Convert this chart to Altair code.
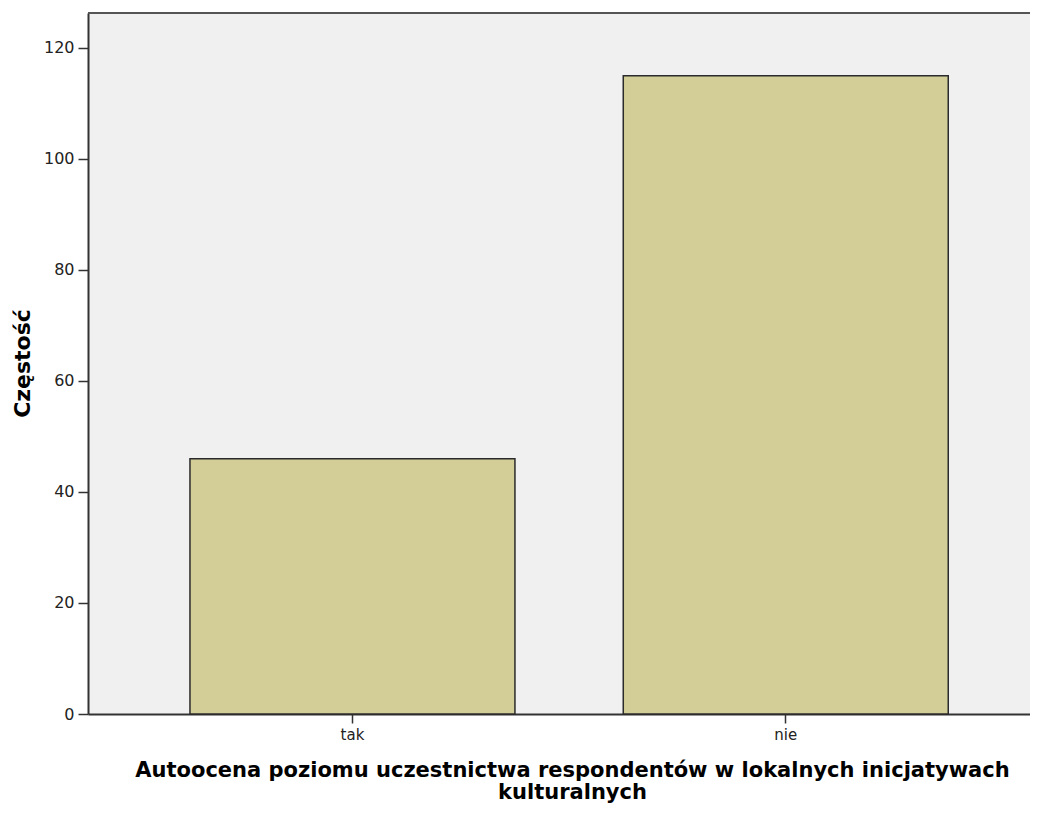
import altair as alt
import pandas as pd

categories = ["tak", "nie"]
counts = [46, 115]
y_ticks = [0, 20, 40, 60, 80, 100, 120]
x_title = ["Autoocena poziomu uczestnictwa respondentów w lokalnych inicjatywach", "kulturalnych"]
y_title = "Częstość"

df = pd.DataFrame({"kategoria": categories, "czestosc": counts})

FONT = "DejaVu Sans"

bars = alt.Chart(df).mark_bar(
    color="#D3CE97", stroke="#2b2b2b", strokeWidth=1.5
).encode(
    x=alt.X("kategoria:N", sort=categories,
            scale=alt.Scale(paddingInner=0.25, paddingOuter=0.212, align=0.555),
            axis=alt.Axis(title=x_title, labelAngle=0, tickSize=9, labelPadding=4,
                          labelFontSize=15, labelColor="#222", labelFont=FONT,
                          domainColor="#333", domainWidth=2, tickColor="#333", tickWidth=1.5,
                          titleFont=FONT, titleFontSize=21, titleFontWeight="bold",
                          titleColor="#000", titleX=484, titleY=45, titleBaseline="top",
                          titleLineHeight=22, titleAlign="center")),
    y=alt.Y("czestosc:Q",
            scale=alt.Scale(domain=[0, 126.3], nice=False, zero=True),
            axis=alt.Axis(title=y_title, values=y_ticks, grid=False, tickSize=10,
                          labelPadding=4, labelFontSize=16, labelColor="#222",
                          labelFont=FONT, domainColor="#333", domainWidth=2,
                          tickColor="#333", tickWidth=1.5,
                          titleFont=FONT, titleFontSize=22, titleFontWeight="bold",
                          titleColor="#000", titleX=-66, titleY=350, titleBaseline="middle",
                          titleAlign="center", titleAngle=-90)),
)

top_border = alt.Chart(df).mark_rule(color="#555", strokeWidth=2).encode(
    x=alt.value(0), x2=alt.value(942), y=alt.value(0)
)

chart = alt.layer(bars, top_border).properties(
    width=942, height=701,
    autosize=alt.AutoSizeParams(type="none"),
    padding={"left": 80, "top": 5, "right": 0, "bottom": 95},
    background="#FFFFFF",
).configure_view(
    fill="#F0F0F0", strokeWidth=0
)

chart.save("out.html", embed_options={"renderer": "svg", "actions": False})
